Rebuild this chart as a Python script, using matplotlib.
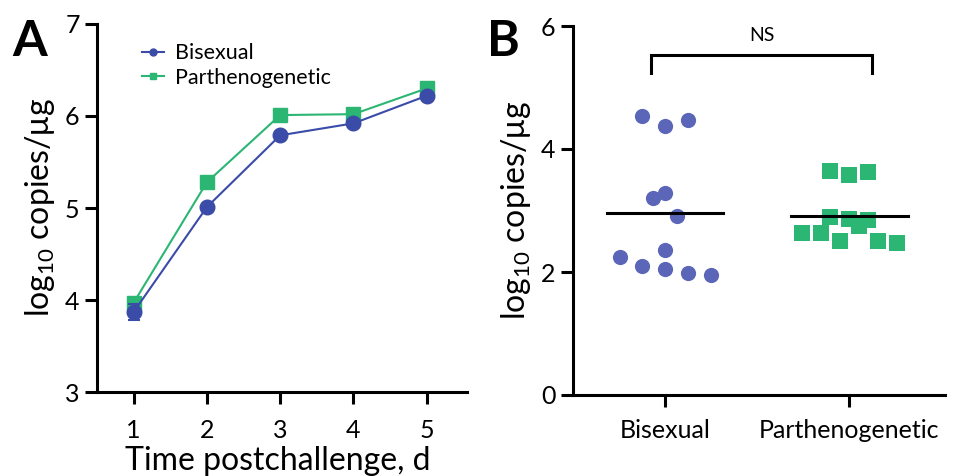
import matplotlib
matplotlib.use("Agg")
import matplotlib.pyplot as plt
from matplotlib.lines import Line2D
import numpy as np

plt.rcParams['font.family'] = ['Lato', 'DejaVu Sans']
plt.rcParams['mathtext.fontset'] = 'custom'
plt.rcParams['mathtext.rm'] = 'Lato'
plt.rcParams['mathtext.it'] = 'Lato:italic'

# ---- Panel A data ----
days = [1, 2, 3, 4, 5]
bisexual_a = [3.87, 5.01, 5.79, 5.92, 6.22]
bisexual_a_err = [0.09, 0.03, 0.03, 0.03, 0.03]
partheno_a = [3.97, 5.28, 6.01, 6.02, 6.30]
partheno_a_err = [0.03, 0.03, 0.03, 0.03, 0.03]

# ---- Panel B data ----
groups = ['Bisexual', 'Parthenogenetic']
bisexual_b = [4.53, 4.38, 4.47, 3.21, 3.29, 2.91, 2.25, 2.35, 2.10, 2.05, 1.99, 1.95]
partheno_b = [3.64, 3.57, 3.63, 2.89, 2.86, 2.85, 2.75, 2.64, 2.64, 2.51, 2.51, 2.47]
group_means = [2.96, 2.91]
sig_label = 'NS'

# horizontal scatter layout
bisexual_jit = [-0.123, 0.0, 0.127, -0.063, 0.0, 0.065, -0.244, 0.0, -0.123, 0.0, 0.127, 0.25]
partheno_jit = [-0.105, 0.0, 0.103, -0.105, 0.0, 0.103, 0.052, -0.259, -0.156, -0.051, 0.157, 0.257]

blue_a = '#3A4BA8'
blue_b = '#5C66B8'
green = '#2BB673'

fig = plt.figure(figsize=(9.57, 4.76), dpi=100)

axA = fig.add_axes([97/957, 1 - 392/476, (467-97)/957, (392-24)/476])
axB = fig.add_axes([573/957, 1 - 395/476, (945-573)/957, (395-26)/476])

for ax in (axA, axB):
    ax.spines['top'].set_visible(False)
    ax.spines['right'].set_visible(False)
    for s in ('left', 'bottom'):
        ax.spines[s].set_linewidth(2.2)
        ax.spines[s].set_color('black')
    ax.tick_params(width=2.2, length=8.5, labelsize=18, colors='black', pad=4)

# Panel A
axA.errorbar(days, partheno_a, yerr=partheno_a_err, color=green, marker='s',
             markersize=10, lw=1.5, capsize=4, capthick=1.5, elinewidth=1.5,
             label='Parthenogenetic', zorder=3)
axA.errorbar(days, bisexual_a, yerr=bisexual_a_err, color=blue_a, marker='o',
             markersize=10.5, lw=1.5, capsize=4, capthick=1.5, elinewidth=1.5,
             label='Bisexual', zorder=4)
axA.set_xlim(0.5, 5.55)
axA.set_ylim(3, 7)
axA.set_xticks(days)
axA.set_yticks([3, 4, 5, 6, 7])
axA.tick_params(axis='x', pad=11)
axA.set_xlabel('Time postchallenge, d', fontsize=23)
axA.xaxis.label.set_va('baseline')
axA.xaxis.set_label_coords(0.489, -78/368)
axA.set_ylabel(r'log$_{10}$ copies/μg', fontsize=23, labelpad=6)
hb = Line2D([], [], color=blue_a, marker='o', markersize=5, lw=1.5)
hp = Line2D([], [], color=green, marker='s', markersize=5, lw=1.5)
axA.legend([hb, hp], ['Bisexual', 'Parthenogenetic'], loc='upper left',
           bbox_to_anchor=(0.07, 1.0), frameon=False, fontsize=15.5,
           handlelength=1.0, handletextpad=0.5, labelspacing=0.2)

# Panel B
xb = np.zeros(len(bisexual_b)) + np.array(bisexual_jit)
xp = np.ones(len(partheno_b)) + np.array(partheno_jit)
axB.scatter(xb, bisexual_b, s=120, marker='o', color=blue_b, linewidths=0, zorder=3)
axB.scatter(xp, partheno_b, s=125, marker='s', color=green, linewidths=0, zorder=3)
for i, m in enumerate(group_means):
    axB.plot([i - 0.317, i + 0.317], [m, m], color='black', lw=2.2, zorder=4)
# significance bracket
axB.plot([-0.076, -0.076, 1.121, 1.121], [5.23, 5.53, 5.53, 5.23], color='black',
         lw=2.2, solid_joinstyle='miter')
axB.text(0.524, 5.85, sig_label, ha='center', va='center', fontsize=14)
axB.set_xlim(-0.5, 1.52)
axB.set_ylim(0, 6)
axB.set_xticks([0, 1])
axB.set_xticklabels(groups)
axB.set_yticks([0, 2, 4, 6])
axB.tick_params(axis='x', pad=9)
axB.set_ylabel(r'log$_{10}$ copies/μg', fontsize=23, labelpad=6)

fig.text(12/957, 1 - 56/476, 'A', fontsize=36, fontweight='bold', ha='left', va='baseline')
fig.text(487/957, 1 - 56/476, 'B', fontsize=36, fontweight='bold', ha='left', va='baseline')

fig.savefig('out.png', dpi=100)
